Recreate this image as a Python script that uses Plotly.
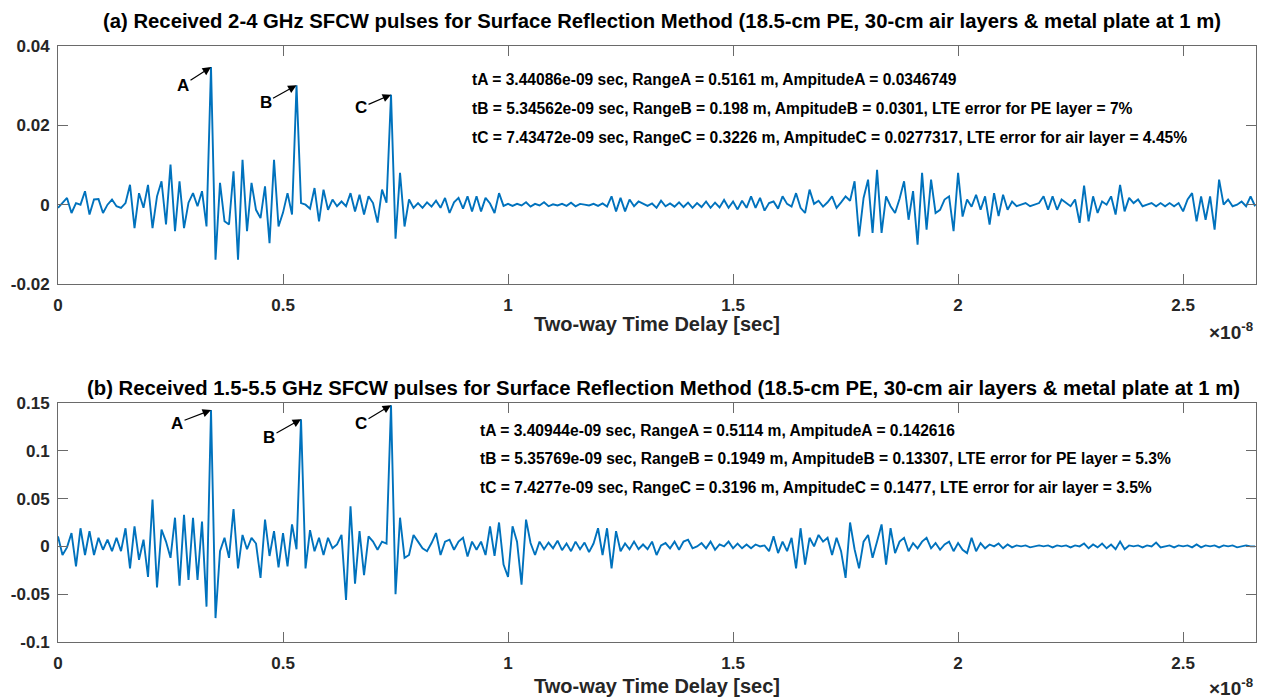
import plotly.graph_objects as go

# ---------------- data ----------------
DT = 0.1e-9

# (a) 2-4 GHz received signal amplitude
amp_a = [
    -0.0008, 0.0004, 0.0017, -0.0021, 0.0004, 0.0000, 0.0034, -0.0025, 0.0013, 0.0014,
    -0.0021, 0.0000, 0.0013, -0.0004, -0.0008, 0.0004, 0.0050, -0.0059, 0.0029, -0.0008,
    0.0050, -0.0059, 0.0021, 0.0059, -0.0050, 0.0101, -0.0067, 0.0059, -0.0059, 0.0005,
    0.0029, -0.0004, 0.0034, -0.0055, 0.0346749, -0.0139, 0.0055, -0.0042, -0.0050, 0.0084,
    -0.0139, 0.0113, -0.0067, 0.0055, -0.0013, -0.0034, 0.0046, -0.0097, 0.0113, -0.0055,
    -0.0020, 0.0029, -0.0025, 0.0301, 0.0004, 0.0000, -0.0010, 0.0042, -0.0042, 0.0038,
    -0.0013, 0.0013, -0.0004, 0.0008, -0.0004, 0.0029, -0.0017, 0.0025, -0.0025, 0.0021,
    0.0004, -0.0045, 0.0038, 0.0005, 0.0277317, -0.0086, 0.0080, -0.0055, 0.0013, -0.0008,
    0.0004, -0.0008, 0.0006, -0.0005, 0.0010, -0.0008, 0.0017, -0.0021, 0.0006, 0.0017,
    -0.0010, 0.0021, -0.0017, 0.0021, -0.0017, 0.0017, 0.0003, -0.0021, 0.0029, -0.0003,
    0.0002, -0.0003, 0.0002, -0.0002, 0.0006, -0.0005, 0.0002, -0.0002, 0.0006, -0.0004,
    0.0001, -0.0002, 0.0002, -0.0003, 0.0005, -0.0004, 0.0002, 0.0000, -0.0002, 0.0002,
    -0.0003, 0.0003, -0.0005, 0.0021, -0.0017, 0.0017, -0.0017, 0.0013, -0.0004, 0.0008,
    0.0002, -0.0003, 0.0003, -0.0008, 0.0010, -0.0004, 0.0003, -0.0005, 0.0006, -0.0006,
    0.0005, -0.0008, 0.0004, -0.0006, 0.0008, -0.0008, 0.0005, -0.0007, 0.0012, -0.0008,
    0.0008, -0.0012, 0.0010, -0.0008, 0.0021, -0.0008, 0.0017, -0.0015, 0.0004, 0.0008,
    -0.0010, 0.0021, 0.0002, -0.0005, 0.0029, -0.0008, -0.0021, 0.0038, 0.0002, 0.0010,
    -0.0005, 0.0006, 0.0021, -0.0008, 0.0006, 0.0021, 0.0010, 0.0059, -0.0080, 0.0017,
    0.0063, -0.0071, 0.0088, -0.0071, 0.0021, -0.0004, -0.0021, 0.0015, 0.0059, -0.0038,
    0.0034, -0.0101, 0.0080, -0.0063, 0.0063, -0.0021, -0.0013, 0.0013, 0.0021, -0.0067,
    0.0080, -0.0030, 0.0013, -0.0005, 0.0025, -0.0013, 0.0021, -0.0050, 0.0029, -0.0029,
    0.0025, -0.0013, 0.0008, -0.0004, 0.0000, 0.0004, -0.0004, 0.0000, 0.0004, 0.0021,
    -0.0013, 0.0021, -0.0013, 0.0013, 0.0004, -0.0004, 0.0013, -0.0046, 0.0048, -0.0042,
    0.0021, -0.0021, 0.0008, 0.0000, 0.0021, -0.0025, 0.0050, -0.0017, 0.0017, 0.0004,
    0.0013, -0.0004, 0.0000, 0.0004, -0.0004, 0.0004, -0.0004, 0.0004, -0.0004, 0.0004,
    -0.0017, 0.0013, 0.0029, -0.0042, 0.0021, -0.0038, 0.0021, -0.0063, 0.0063, 0.0000,
    0.0013, -0.0004, 0.0000, 0.0008, -0.0004, 0.0021, -0.0004,
]

# (b) 1.5-5.5 GHz received signal amplitude
amp_b = [
    0.0105, -0.0090, -0.0010, 0.0140, -0.0210, 0.0190, -0.0090, 0.0160, -0.0090, 0.0090,
    -0.0035, 0.0070, -0.0050, 0.0090, -0.0050, 0.0190, -0.0230, 0.0210, -0.0140, 0.0070,
    -0.0320, 0.0490, -0.0430, 0.0175, 0.0050, -0.0120, 0.0300, -0.0410, 0.0330, -0.0350,
    0.0300, -0.0350, 0.0260, -0.0630, 0.142616, -0.0750, -0.0050, 0.0090, -0.0120, 0.0390,
    -0.0230, 0.0120, -0.0030, 0.0090, 0.0030, -0.0330, 0.0280, -0.0100, 0.0160, -0.0220,
    0.0140, -0.0210, 0.0230, -0.0030, 0.13307, -0.0230, 0.0170, -0.0050, 0.0090, -0.0090,
    0.0090, -0.0020, 0.0020, 0.0120, -0.0560, 0.0420, -0.0390, 0.0160, -0.0300, 0.0105,
    0.0050, -0.0035, 0.0050, 0.0030, 0.1477, -0.0500, 0.0300, -0.0120, -0.0090, 0.0120,
    0.0050, -0.0020, -0.0050, 0.0035, 0.0140, -0.0090, 0.0050, 0.0070, -0.0035, 0.0050,
    0.0090, -0.0105, 0.0050, -0.0035, 0.0050, -0.0090, 0.0210, -0.0100, 0.0250, -0.0190,
    -0.0320, 0.0210, 0.0050, -0.0400, 0.0280, 0.0035, -0.0090, 0.0050, -0.0030, 0.0040,
    -0.0020, 0.0060, -0.0040, 0.0030, -0.0050, 0.0050, -0.0030, 0.0040, -0.0060, 0.0030,
    0.0190, -0.0090, 0.0190, -0.0230, 0.0160, -0.0050, 0.0030, -0.0030, 0.0050, -0.0030,
    0.0020, -0.0030, 0.0050, -0.0090, 0.0010, 0.0035, -0.0020, 0.0050, -0.0035, 0.0050,
    0.0070, -0.0020, 0.0000, 0.0035, -0.0020, 0.0050, -0.0035, 0.0020, 0.0000, 0.0050,
    -0.0020, 0.0030, -0.0020, 0.0020, -0.0020, 0.0020, 0.0000, 0.0010, -0.0050, 0.0105,
    -0.0070, 0.0050, -0.0050, 0.0090, -0.0230, 0.0190, -0.0190, 0.0090, 0.0000, 0.0120,
    0.0050, 0.0090, -0.0090, 0.0090, -0.0050, -0.0330, 0.0250, -0.0030, -0.0230, 0.0050,
    0.0120, -0.0120, 0.0050, 0.0230, -0.0190, 0.0190, -0.0070, 0.0050, 0.0090, -0.0050,
    0.0035, -0.0020, 0.0050, 0.0090, -0.0020, 0.0035, -0.0035, 0.0020, 0.0050, -0.0050,
    0.0035, -0.0035, -0.0070, 0.0090, -0.0050, 0.0035, -0.0020, 0.0020, 0.0000, 0.0030,
    -0.0020, 0.0020, -0.0010, 0.0010, 0.0000, 0.0010, -0.0010, 0.0000, 0.0010, 0.0000,
    0.0010, -0.0010, 0.0010, 0.0000, 0.0010, -0.0010, 0.0010, 0.0000, 0.0030, -0.0020,
    0.0020, -0.0010, 0.0030, -0.0020, 0.0020, -0.0030, 0.0050, -0.0030, 0.0010, 0.0000,
    0.0010, -0.0010, 0.0010, 0.0000, 0.0040, -0.0010, 0.0000, 0.0010, -0.0010, 0.0010,
    0.0000, 0.0010, -0.0010, 0.0020, -0.0010, 0.0010, 0.0000, 0.0010, -0.0010, 0.0010,
    0.0000, 0.0010, -0.0010, 0.0000, 0.0010, 0.0000, 0.0000,
]

x_tick_vals = [0, 0.5e-8, 1.0e-8, 1.5e-8, 2.0e-8, 2.5e-8]
x_tick_text = ["0", "0.5", "1", "1.5", "2", "2.5"]
ya_tick_vals = [-0.02, 0, 0.02, 0.04]
ya_tick_text = ["-0.02", "0", "0.02", "0.04"]
yb_tick_vals = [-0.1, -0.05, 0, 0.05, 0.1, 0.15]
yb_tick_text = ["-0.1", "-0.05", "0", "0.05", "0.1", "0.15"]

title_a = "(a) Received 2-4 GHz SFCW pulses for Surface Reflection Method (18.5-cm PE, 30-cm air layers & metal plate at 1 m)"
title_b = "(b) Received 1.5-5.5 GHz SFCW pulses for Surface Reflection Method (18.5-cm PE, 30-cm air layers & metal plate at 1 m)"
info_a = [
    "tA = 3.44086e-09 sec, RangeA = 0.5161 m, AmpitudeA = 0.0346749",
    "tB = 5.34562e-09 sec, RangeB = 0.198 m, AmpitudeB = 0.0301, LTE error for PE layer = 7%",
    "tC = 7.43472e-09 sec, RangeC = 0.3226 m, AmpitudeC = 0.0277317, LTE error for air layer = 4.45%",
]
info_b = [
    "tA = 3.40944e-09 sec, RangeA = 0.5114 m, AmpitudeA = 0.142616",
    "tB = 5.35769e-09 sec, RangeB = 0.1949 m, AmpitudeB = 0.13307, LTE error for PE layer = 5.3%",
    "tC = 7.4277e-09 sec, RangeC = 0.3196 m, AmpitudeC = 0.1477, LTE error for air layer = 3.5%",
]
peak_labels = ["A", "B", "C"]
x_label = "Two-way Time Delay [sec]"

# ---------------- figure ----------------
time_a = [i * DT for i in range(len(amp_a))]
time_b = [i * DT for i in range(len(amp_b))]

FONT = "Liberation Sans, Arial, sans-serif"
LINE_BLUE = "#0072BD"
AX_COL = "#262626"

fig = go.Figure()
fig.add_trace(go.Scatter(x=time_a, y=amp_a, mode="lines", xaxis="x", yaxis="y",
                         line=dict(color=LINE_BLUE, width=1.9), showlegend=False))
fig.add_trace(go.Scatter(x=time_b, y=amp_b, mode="lines", xaxis="x2", yaxis="y2",
                         line=dict(color=LINE_BLUE, width=1.9), showlegend=False))

# the page body adds an 8 px margin, so the figure is drawn 8 px in from the window edges
OFF = 8
W, H = 1266 - OFF, 698 - OFF
ML, MR, MT, MB = 58 - OFF, 10, 46 - OFF, 56
PW = W - ML - MR
PH = H - MT - MB


def py(p):  # window pixel row -> paper y
    return (H - MB - (p - OFF)) / PH


def px(p):  # window pixel col -> paper x
    return (p - OFF - ML) / PW


dom_a = [py(284), 1.0]
dom_b = [0.0, py(403)]

axis_common = dict(showline=True, linecolor="#6a6a6a", linewidth=1, mirror="ticks",
                   ticks="inside", ticklen=10, tickcolor="#6a6a6a", tickwidth=1,
                   showgrid=False, zeroline=False, automargin=False,
                   tickfont=dict(family=FONT, size=17, color=AX_COL, weight="bold"))

x_range = [0, 2.662e-8]
fig.update_layout(
    width=W, height=H,
    margin=dict(l=ML, r=MR, t=MT, b=MB, autoexpand=False),
    paper_bgcolor="white", plot_bgcolor="white",
    xaxis=dict(domain=[0, 1], anchor="y", range=x_range, tickvals=x_tick_vals,
               ticktext=x_tick_text, ticklabelstandoff=6, **axis_common),
    yaxis=dict(domain=dom_a, anchor="x", range=[-0.02, 0.04], tickvals=ya_tick_vals,
               ticktext=ya_tick_text, ticklabelstandoff=4, **axis_common),
    xaxis2=dict(domain=[0, 1], anchor="y2", range=x_range, tickvals=x_tick_vals,
                ticktext=x_tick_text, ticklabelstandoff=6, **axis_common),
    yaxis2=dict(domain=dom_b, anchor="x2", range=[-0.1, 0.15], tickvals=yb_tick_vals,
                ticktext=yb_tick_text, ticklabelstandoff=4, **axis_common),
)

anns = []
# titles (right ends)
for title, xr_end, yp in [(title_a, 1223, 21), (title_b, 1242, 388)]:
    anns.append(dict(text=title, xref="paper", yref="paper", x=px(xr_end), y=py(yp),
                     xanchor="right", yanchor="middle", showarrow=False,
                     font=dict(family=FONT, size=20.3, color="black", weight="bold")))
# x-axis labels and exponent
for yp_lab, yp_exp in [(324, 331), (686, 687)]:
    anns.append(dict(text=x_label, xref="paper", yref="paper", x=px(657), y=py(yp_lab),
                     xanchor="center", yanchor="middle", showarrow=False,
                     font=dict(family=FONT, size=20, color=AX_COL, weight="bold")))
    anns.append(dict(text="\u00d710<sup>-8</sup>", xref="paper", yref="paper", x=px(1255), y=py(yp_exp),
                     xanchor="right", yanchor="middle", showarrow=False,
                     font=dict(family=FONT, size=19, color=AX_COL, weight="bold")))

# info text blocks
for lines, x0, ys in [(info_a, 470, [80, 108, 137]), (info_b, 478, [430, 458, 487])]:
    for txt, yp in zip(lines, ys):
        anns.append(dict(text=txt, xref="paper", yref="paper", x=px(x0), y=py(yp),
                         xanchor="left", yanchor="middle", showarrow=False,
                         font=dict(family=FONT, size=15.6, color="black", weight="bold")))


# peak labels with arrows (peaks found from the data)
def peak_indices(vals, windows):
    out = []
    for lo, hi in windows:
        seg = list(range(lo, hi))
        out.append(max(seg, key=lambda k: vals[k]))
    return out


windows = [(30, 40), (50, 58), (70, 80)]
offs_a = [(-28, 18), (-31, 17), (-30, 13)]
offs_b = [(-34, 13), (-32, 18), (-30, 18)]
for vals, times, xr, yr, offs in [(amp_a, time_a, "x", "y", offs_a), (amp_b, time_b, "x2", "y2", offs_b)]:
    for lab, k, (axo, ayo) in zip(peak_labels, peak_indices(vals, windows), offs):
        anns.append(dict(text=lab, x=times[k], y=vals[k], xref=xr, yref=yr,
                         ax=axo, ay=ayo, showarrow=True, arrowhead=2, arrowsize=1.4,
                         arrowwidth=1.2, arrowcolor="black", standoff=0, startstandoff=0,
                         font=dict(family=FONT, size=17, color="black", weight="bold")))

fig.update_layout(annotations=anns)
fig.write_html("out.html")
